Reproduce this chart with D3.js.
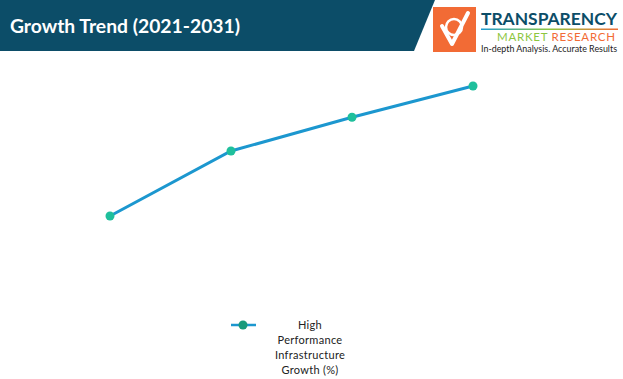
<!DOCTYPE html>
<html>
<head>
<meta charset="utf-8">
<script src="https://cdn.jsdelivr.net/npm/d3@7"></script>
<style>
  body { margin: 0; background: #fff; }
  svg { display: block; font-family: Lato, "Open Sans", sans-serif; }
</style>
</head>
<body>
<div id="chart"></div>
<script>
const years = ['2021', '2024', '2027', '2031'];
const growth = [4.0, 6.5, 7.8, 9.0];
const seriesName = ['High', 'Performance', 'Infrastructure', 'Growth (%)'];
const title = 'Growth Trend (2021-2031)';

const width = 623, height = 379;

const svg = d3.select('#chart')
  .append('svg')
  .attr('width', width)
  .attr('height', height);

// header band
svg.append('path')
  .attr('d', 'M0,0 L435,0 L414,51 L0,51 Z')
  .attr('fill', '#0c4d68');

svg.append('text')
  .attr('x', 10)
  .attr('y', 33)
  .attr('fill', '#fff')
  .style('font-size', '19px')
  .style('font-weight', 'bold')
  .attr('textLength', 230).attr('lengthAdjust', 'spacingAndGlyphs')
  .text(title);

// logo
const logo = svg.append('g');
logo.append('rect')
  .attr('x', 433).attr('y', 7).attr('width', 43).attr('height', 45)
  .attr('fill', '#f26b35');
logo.append('path')
  .attr('d', 'M442,26 L452,44 L468,13')
  .attr('fill', 'none').attr('stroke', '#fff').attr('stroke-width', 4)
  .attr('stroke-linecap', 'round').attr('stroke-linejoin', 'round');
logo.append('circle')
  .attr('cx', 454).attr('cy', 27).attr('r', 8)
  .attr('fill', 'none').attr('stroke', '#fff').attr('stroke-width', 2.5);
logo.append('text')
  .attr('x', 481).attr('y', 25)
  .attr('fill', '#0c4d68')
  .style('font-size', '17px').style('font-weight', 'bold')
  .attr('textLength', 136).attr('lengthAdjust', 'spacingAndGlyphs')
  .text('TRANSPARENCY');
const grad = svg.append('defs').append('linearGradient').attr('id', 'lg');
grad.append('stop').attr('offset', '0%').attr('stop-color', '#1d9bd1');
grad.append('stop').attr('offset', '50%').attr('stop-color', '#8dc63f');
grad.append('stop').attr('offset', '100%').attr('stop-color', '#f26b35');
logo.append('rect')
  .attr('x', 481).attr('y', 28.5).attr('width', 137).attr('height', 1.5)
  .attr('fill', 'url(#lg)');
logo.append('text')
  .attr('x', 497).attr('y', 41)
  .style('font-size', '11.5px')
  .attr('textLength', 118).attr('lengthAdjust', 'spacing')
  .call(t => {
    t.append('tspan').attr('fill', '#8dc63f').text('MARKET ');
    t.append('tspan').attr('fill', '#f26b35').text('RESEARCH');
  });
logo.append('text')
  .attr('x', 481).attr('y', 52)
  .attr('fill', '#222')
  .style('font-size', '8.5px')
  .attr('textLength', 136).attr('lengthAdjust', 'spacingAndGlyphs')
  .text('In-depth Analysis. Accurate Results');

// scales
const x = d3.scalePoint().domain(years).range([110, 473]);
const y = d3.scaleLinear().domain([0, 10]).range([320, 60]);

const line = d3.line()
  .x((d, i) => x(years[i]))
  .y(d => y(d));

svg.append('path')
  .datum(growth)
  .attr('d', line)
  .attr('fill', 'none')
  .attr('stroke', '#1c97cf')
  .attr('stroke-width', 3);

svg.selectAll('.dot')
  .data(growth)
  .enter()
  .append('circle')
  .attr('class', 'dot')
  .attr('cx', (d, i) => x(years[i]))
  .attr('cy', d => y(d))
  .attr('r', 4.5)
  .attr('fill', '#1fbf9c');

// legend
const lg = svg.append('g');
lg.append('line')
  .attr('x1', 231).attr('x2', 256).attr('y1', 325).attr('y2', 325)
  .attr('stroke', '#1c97cf').attr('stroke-width', 2.5);
lg.append('circle')
  .attr('cx', 243).attr('cy', 325).attr('r', 4.5)
  .attr('fill', '#1a9a7c');
lg.selectAll('text')
  .data(seriesName)
  .enter()
  .append('text')
  .attr('x', 310)
  .attr('y', (d, i) => 329 + i * 15)
  .attr('text-anchor', 'middle')
  .attr('fill', '#222')
  .style('font-size', '11px')
  .style('letter-spacing', '0.3px')
  .text(d => d);
</script>
</body>
</html>
